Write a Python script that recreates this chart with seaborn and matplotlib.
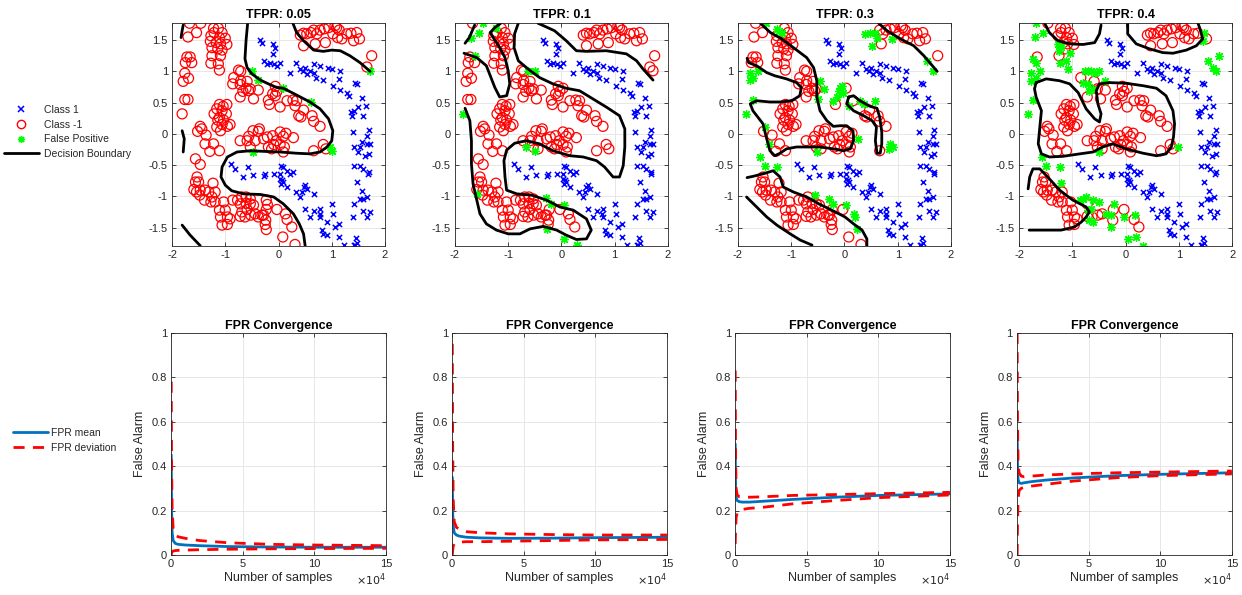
import numpy as np
import seaborn as sns
import matplotlib.pyplot as plt
from matplotlib.lines import Line2D

# class 1 samples (blue x)
class_pos = np.array([
    (-0.34, 1.50), (-0.31, 1.45), (-0.11, 1.44), (-0.06, 1.38), (-0.11, 1.27), (-0.28, 1.16),
    (-0.22, 1.12), (-0.16, 1.14), (-0.08, 1.11), (0.02, 1.13), (-0.03, 1.09), (0.21, 0.98),
    (0.33, 1.13), (0.41, 1.04), (0.46, 1.01), (0.50, 1.06), (0.53, 0.96), (0.66, 1.12),
    (0.59, 1.01), (0.67, 0.98), (0.71, 0.90), (0.78, 1.09), (0.83, 0.86), (0.92, 1.06),
    (1.00, 1.04), (1.03, 0.77), (1.16, 1.01), (1.14, 0.88), (1.16, 0.70), (1.28, 0.66),
    (1.33, 0.61), (1.44, 0.81), (1.47, 0.80), (1.56, 0.57), (1.36, 0.35), (1.41, 0.37),
    (1.50, 0.43), (1.64, 0.44), (1.38, 0.29), (1.58, 0.29), (1.69, 0.06), (1.66, -0.03),
    (1.39, 0.03), (1.41, -0.21), (1.56, -0.13), (1.53, -0.21), (1.66, -0.16), (1.72, -0.17),
    (1.50, -0.29), (1.63, -0.35), (1.69, -0.32), (1.41, -0.51), (1.53, -0.51), (1.59, -0.56),
    (1.69, -0.61), (1.68, -0.64), (1.47, -0.77), (1.56, -0.91), (1.53, -1.04), (1.59, -1.05),
    (1.66, -1.01), (1.41, -1.13), (1.39, -1.33), (1.58, -1.23), (1.72, -1.25), (1.66, -1.33),
    (-0.89, -0.48), (-0.81, -0.56), (-0.66, -0.69), (-0.58, -0.53), (-0.47, -0.66), (-0.25, -0.64),
    (-0.27, -0.68), (-0.09, -0.65), (0.04, -0.51), (0.09, -0.53), (0.02, -0.64), (0.16, -0.60),
    (0.22, -0.64), (0.28, -0.61), (0.03, -0.72), (0.06, -0.74), (0.09, -0.77), (0.05, -0.80),
    (0.16, -0.85), (0.50, -0.82), (0.47, -0.85), (0.53, -0.88), (0.44, -0.93), (0.33, -0.93),
    (0.41, -1.01), (0.66, -0.96), (0.50, -1.20), (0.66, -1.23), (0.78, -1.20), (0.77, -1.28),
    (0.59, -1.33), (0.78, -1.33), (1.00, -1.13), (1.02, -1.28), (0.91, -1.41), (1.06, -1.49),
    (1.13, -1.45), (0.81, -1.54), (0.84, -1.60), (0.91, -1.62), (1.13, -1.65), (1.23, -1.78),
    (1.41, -1.78), (1.46, -1.66), (1.47, -1.74), (1.44, -1.78),
])

# class -1 samples (red o)
class_neg = np.array([
    (-1.67, 1.77), (-1.46, 1.77), (-1.54, 1.62), (-1.70, 1.55), (-1.22, 1.69), (-1.13, 1.69),
    (-1.21, 1.62), (-1.06, 1.62), (-1.27, 1.57), (-1.11, 1.54), (-1.28, 1.48), (-1.17, 1.46),
    (-1.00, 1.53), (-1.09, 1.44), (-0.97, 1.43), (-1.25, 1.38), (-1.14, 1.36), (-1.06, 1.34),
    (-1.25, 1.25), (-1.09, 1.25), (-1.27, 1.13), (-1.13, 1.12), (-1.11, 1.02), (-1.72, 1.23),
    (-1.66, 1.23), (-1.75, 1.14), (-1.63, 1.14), (-1.76, 0.97), (-1.69, 0.89), (-1.79, 0.84),
    (-1.76, 0.55), (-1.70, 0.55), (-1.81, 0.32), (-1.11, 0.47), (-1.04, 0.44), (-0.97, 0.47),
    (-1.16, 0.40), (-1.06, 0.37), (-1.21, 0.32), (-1.11, 0.26), (-0.98, 0.32), (-1.14, 0.22),
    (-1.03, 0.22), (-1.06, 0.15), (-0.91, 0.15), (-0.96, 0.12), (-1.16, 0.11), (-1.09, 0.05),
    (-1.47, 0.12), (-1.44, 0.08), (-1.52, 0.04), (-1.36, -0.02), (-1.38, -0.16), (-1.22, -0.16),
    (-1.11, -0.27), (-1.29, -0.28),
    (-0.75, 1.02), (-0.71, 1.00), (-0.84, 0.90), (-0.71, 0.85), (-0.59, 0.84), (-0.86, 0.80),
    (-0.72, 0.79), (-0.61, 0.73), (-0.53, 0.72), (-0.38, 0.70), (-0.67, 0.68), (-0.56, 0.69),
    (-0.72, 0.59), (-0.47, 0.56), (-0.19, 0.54), (-0.11, 0.64), (-0.06, 0.76), (0.03, 0.73),
    (-0.03, 0.68), (-0.06, 0.61), (-0.17, 0.47), (0.16, 0.53), (0.27, 0.54), (0.34, 0.53),
    (0.31, 0.45), (0.03, 0.43), (0.38, 0.29), (0.42, 0.27), (0.47, 0.38), (0.63, 0.29),
    (0.66, 0.20), (0.78, 0.12), (-0.36, 0.08), (-0.38, 0.04), (-0.48, 0.05), (-0.56, -0.04),
    (-0.72, -0.11), (-0.59, -0.11), (-0.44, -0.11), (-0.28, -0.08), (-0.21, -0.05), (-0.11, -0.03),
    (-0.04, -0.11), (0.09, -0.04), (0.28, -0.06), (0.14, 0.01), (0.03, 0.03), (-0.19, -0.21),
    (-0.09, -0.17), (0.03, -0.17), (0.11, -0.21), (0.09, -0.29), (-0.13, -0.24), (-0.53, -0.21),
    (-0.44, -0.24), (0.66, -0.27), (0.84, -0.17), (0.89, -0.24),
    (-1.56, -0.40), (-1.47, -0.49), (-1.53, -0.69), (-1.56, -0.77), (-1.50, -0.77), (-1.59, -0.89),
    (-1.54, -0.93), (-1.47, -0.90), (-1.38, -0.90), (-1.23, -0.79), (-1.19, -0.93), (-1.31, -0.93),
    (-1.25, -1.01), (-1.48, -0.98), (-1.39, -1.06), (-1.27, -1.09), (-1.19, -1.09), (-1.03, -1.09),
    (-1.11, -1.22), (-1.00, -1.22), (-0.96, -1.33), (-1.09, -1.33), (-0.91, -1.36), (-1.06, -1.46),
    (-0.96, -1.45), (-0.86, -1.06), (-0.77, -1.06), (-0.69, -1.01), (-0.61, -1.01), (-0.53, -1.04),
    (-0.72, -1.12), (-0.61, -1.11), (-0.53, -1.12), (-0.47, -1.14), (-0.59, -1.21), (-0.69, -1.25),
    (-0.72, -1.32), (-0.63, -1.33), (-0.52, -1.30), (-0.44, -1.28), (-0.38, -1.33), (-0.31, -1.30),
    (-0.23, -1.06), (-0.21, -1.13), (-0.23, -1.21), (-0.28, -1.30), (-0.24, -1.38), (-0.25, -1.45),
    (-0.23, -1.53), (-0.03, -1.21), (0.13, -1.28), (0.16, -1.37), (0.25, -1.49), (0.08, -1.65),
    (0.31, -1.77),
    (0.41, 1.58), (0.47, 1.61), (0.53, 1.60), (0.61, 1.62), (0.66, 1.66), (0.72, 1.60),
    (0.78, 1.66), (0.86, 1.68), (0.94, 1.70), (1.06, 1.73), (1.09, 1.70), (1.14, 1.66),
    (1.02, 1.60), (1.19, 1.52), (1.28, 1.60), (1.36, 1.61), (1.47, 1.62), (1.52, 1.52),
    (1.41, 1.49), (0.47, 1.41), (0.69, 1.44), (0.88, 1.46), (1.11, 1.54), (1.75, 1.25),
    (1.66, 1.07), (1.72, 1.01),
])

tfpr = ["0.05", "0.1", "0.3", "0.4"]

# false positives (green) per TFPR
false_pos = [
    [(-0.50, 1.00), (-0.39, 0.86), (0.09, 0.73), (0.61, 0.51), (0.96, -0.21), (1.00, -0.27),
     (-0.47, -0.29), (1.72, 1.00)],
    [(-1.47, 1.77), (-1.54, 1.62), (-1.70, 1.54), (-1.63, 1.25), (-1.84, 0.31), (-0.67, -0.21),
     (-0.50, -0.28), (-0.63, 1.01), (-0.50, 1.00), (-0.29, -1.03), (-0.20, -1.13), (0.04, -1.14),
     (-0.27, -1.53), (0.04, -1.68), (0.29, -1.78), (-1.58, -0.96), (-1.23, 1.70)],
    [(-1.47, 1.77), (-1.27, 1.68), (-1.18, 1.62), (-1.23, 1.65), (-1.78, 0.98), (-1.72, 0.90),
     (-1.62, 1.01), (-1.78, 0.86), (-1.85, 0.32), (-1.72, 0.54), (-1.49, 0.11), (-1.41, -0.16),
     (-0.46, 0.85), (-0.39, 0.72), (-0.49, 0.56), (-0.21, 0.53), (-0.14, 0.59), (-0.11, 0.69),
     (-0.08, 0.73), (-0.05, 0.76), (-0.02, 0.66), (0.08, 0.44), (0.29, 0.53), (0.36, 0.48),
     (0.58, 0.53), (0.26, -0.08), (0.86, -0.16), (0.83, -0.24), (0.92, -0.21), (-0.52, -0.29),
     (-1.58, -0.37), (-1.49, -0.51), (-1.27, -0.53), (-0.55, -0.98), (-0.30, -1.04), (-0.21, -1.12),
     (0.03, -1.14), (0.17, -1.28), (0.20, -1.33), (0.23, -1.52), (0.39, 1.60), (0.48, 1.61),
     (0.58, 1.62), (0.61, 1.54), (0.51, 1.41), (1.54, 1.17), (1.67, 1.01), (0.89, 1.52)],
    [(-1.69, 1.77), (-1.55, 1.62), (-1.71, 1.55), (-1.74, 1.20), (-1.69, 1.14), (-1.77, 0.98),
     (-1.61, 1.01), (-1.78, 0.85), (-1.68, 0.90), (-1.27, 1.44), (-1.21, 1.39), (-1.25, 1.33),
     (-1.05, 1.29), (-1.11, 1.17), (-1.24, 1.14), (-1.08, 1.04), (-1.83, 0.32), (-1.74, 0.54),
     (-0.77, 1.01), (-0.71, 1.01), (-0.64, 1.01), (-0.58, 0.98), (-0.49, 1.01), (-0.80, 0.82),
     (-0.71, 0.80), (-0.61, 0.72), (-0.68, 0.69), (-0.39, 0.85), (-1.56, -0.37), (-1.49, -0.51),
     (-1.24, -0.53), (-1.21, -0.79), (-0.86, -1.06), (-0.80, -1.04), (-0.74, -1.01), (-0.61, -1.06),
     (-0.71, -1.22), (-0.64, -1.20), (-0.68, -1.38), (-0.61, -1.41), (-0.49, -1.09), (-0.36, -1.28),
     (-0.27, -1.30), (-0.21, -1.12), (-0.27, -1.49), (-0.02, -1.33), (0.17, -1.30), (0.04, -1.68),
     (0.20, -1.65), (0.33, -1.79), (0.98, -0.21), (1.45, 1.48), (1.54, 1.17), (1.75, 1.25),
     (1.64, 1.06), (1.70, 1.01), (1.48, 1.62), (-0.49, -0.29)],
]

# decision boundary curves per TFPR
boundaries = [
    [
        [(-0.58, 1.77), (-0.61, 1.49), (-0.63, 1.20), (-0.59, 1.06), (-0.50, 0.96), (-0.34, 0.86),
         (-0.19, 0.80), (-0.03, 0.74), (0.09, 0.73), (0.25, 0.66), (0.41, 0.59), (0.59, 0.51),
         (0.78, 0.40), (0.94, 0.24), (1.02, 0.05), (1.00, -0.11), (0.91, -0.21), (0.78, -0.29),
         (0.59, -0.32), (0.34, -0.31), (0.03, -0.29), (-0.28, -0.28), (-0.53, -0.27), (-0.78, -0.29),
         (-0.96, -0.37), (-1.06, -0.53), (-1.08, -0.69), (-1.00, -0.82), (-0.88, -0.91), (-0.66, -0.96),
         (-0.34, -0.97), (-0.09, -1.01), (0.09, -1.12), (0.28, -1.28), (0.39, -1.44), (0.47, -1.60),
         (0.50, -1.79)],
        [(0.27, 1.77), (0.34, 1.62), (0.47, 1.49), (0.66, 1.34), (0.84, 1.32), (1.00, 1.34),
         (1.16, 1.33), (1.34, 1.25), (1.53, 1.14), (1.72, 1.00)],
        [(-1.79, 1.74), (-1.81, 1.65), (-1.83, 1.54)],
        [(-1.81, 0.05), (-1.77, -0.08), (-1.79, -0.29)],
        [(-1.81, -1.46), (-1.66, -1.62), (-1.47, -1.79)],
    ],
    [
        [(-1.81, 1.45), (-1.73, 1.54), (-1.66, 1.68), (-1.63, 1.74)],
        [(-1.83, 1.29), (-1.59, 1.22), (-1.41, 1.09), (-1.25, 0.74), (-1.16, 0.59), (-1.03, 0.61),
         (-0.97, 0.80), (-1.00, 1.01), (-1.06, 1.22), (-1.16, 1.38), (-1.28, 1.54), (-1.34, 1.62),
         (-1.25, 1.70), (-1.14, 1.77)],
        [(-0.81, 1.77), (-0.88, 1.60), (-0.89, 1.38), (-0.81, 1.17), (-0.63, 1.04), (-0.41, 0.90),
         (-0.16, 0.80), (0.09, 0.73), (0.34, 0.69), (0.59, 0.56), (0.84, 0.43), (1.09, 0.29),
         (1.19, 0.08), (1.19, -0.21), (1.16, -0.51), (1.09, -0.69), (0.97, -0.69), (0.81, -0.53),
         (0.66, -0.43), (0.41, -0.37), (0.16, -0.35), (-0.16, -0.27), (-0.41, -0.16), (-0.66, -0.11),
         (-0.88, -0.15), (-1.03, -0.26), (-1.08, -0.43), (-1.06, -0.69), (-1.03, -0.90), (-0.84, -0.96),
         (-0.56, -0.98), (-0.28, -1.06), (-0.03, -1.17), (0.22, -1.22), (0.47, -1.36), (0.56, -1.54),
         (0.47, -1.68), (0.28, -1.69), (0.09, -1.62), (-0.09, -1.54), (-0.34, -1.48), (-0.59, -1.52),
         (-0.78, -1.60), (-1.00, -1.60), (-1.22, -1.54), (-1.41, -1.44), (-1.53, -1.28), (-1.59, -1.06),
         (-1.66, -0.80), (-1.69, -0.48), (-1.69, -0.11), (-1.72, 0.21), (-1.81, 0.41)],
        [(-0.44, 1.77), (-0.13, 1.65), (0.09, 1.49), (0.28, 1.33), (0.47, 1.32), (0.84, 1.33),
         (1.22, 1.28), (1.41, 1.17), (1.53, 1.04), (1.72, 0.86)],
    ],
    [
        [(-1.58, 1.77), (-1.39, 1.62), (-1.18, 1.52), (-0.96, 1.38), (-0.71, 1.22), (-0.58, 1.06),
         (-0.52, 0.85), (-0.52, 0.59), (-0.46, 0.37), (-0.33, 0.21), (-0.21, 0.12), (-0.08, 0.13),
         (0.04, 0.13), (0.16, 0.05), (0.17, -0.11), (0.11, -0.24), (-0.02, -0.27), (-0.21, -0.24),
         (-0.46, -0.21), (-0.71, -0.21), (-0.90, -0.21), (-1.09, -0.24), (-1.21, -0.31), (-1.31, -0.35),
         (-1.40, -0.27), (-1.47, -0.05), (-1.53, 0.16), (-1.72, 0.37), (-1.77, 0.48), (-1.65, 0.53),
         (-1.40, 0.51), (-1.21, 0.51), (-0.99, 0.53), (-0.84, 0.61), (-0.81, 0.74), (-0.90, 0.82),
         (-1.09, 0.88), (-1.31, 0.93), (-1.46, 0.98), (-1.65, 1.09), (-1.80, 1.14), (-1.83, 1.21)],
        [(0.08, 0.59), (0.17, 0.61), (0.29, 0.53), (0.48, 0.44), (0.61, 0.41), (0.66, 0.27),
         (0.70, 0.03), (0.70, -0.16), (0.67, -0.31), (0.61, -0.31), (0.58, -0.11), (0.60, 0.11),
         (0.52, 0.21), (0.36, 0.29), (0.17, 0.37), (0.04, 0.48), (0.08, 0.59)],
        [(0.64, 1.77), (0.80, 1.65), (1.05, 1.52), (1.30, 1.41), (1.49, 1.25), (1.68, 1.06),
         (1.74, 1.00)],
        [(-1.83, -0.70), (-1.72, -0.68), (-1.53, -0.64), (-1.34, -0.59), (-1.21, -0.69), (-1.15, -0.85),
         (-0.96, -0.93), (-0.71, -1.01), (-0.46, -1.13), (-0.24, -1.22), (0.01, -1.33), (0.17, -1.44),
         (0.33, -1.54), (0.42, -1.68), (0.42, -1.79)],
        [(-1.84, -1.01), (-1.65, -1.17), (-1.46, -1.33), (-1.27, -1.46), (-1.02, -1.60), (-0.83, -1.70),
         (-0.61, -1.78)],
    ],
    [
        [(-1.52, 1.77), (-1.43, 1.62), (-1.27, 1.49), (-1.05, 1.44), (-0.80, 1.43), (-0.58, 1.46),
         (-0.49, 1.60), (-0.46, 1.74)],
        [(0.04, 1.77), (0.04, 1.60), (0.20, 1.44), (0.45, 1.36), (0.70, 1.30), (0.89, 1.29),
         (1.14, 1.34), (1.33, 1.41), (1.45, 1.52), (1.39, 1.70), (1.36, 1.77)],
        [(-1.68, 0.82), (-1.49, 0.88), (-1.24, 0.85), (-1.05, 0.80), (-0.89, 0.66), (-0.74, 0.40),
         (-0.58, 0.24), (-0.49, 0.19), (-0.46, 0.32), (-0.52, 0.48), (-0.55, 0.69), (-0.49, 0.80),
         (-0.30, 0.82), (0.01, 0.81), (0.33, 0.77), (0.58, 0.73), (0.76, 0.61), (0.89, 0.37),
         (0.92, 0.16), (0.90, -0.05), (0.86, -0.21), (0.76, -0.32), (0.58, -0.35), (0.33, -0.31),
         (0.01, -0.24), (-0.24, -0.16), (-0.43, -0.21), (-0.61, -0.29), (-0.86, -0.32), (-1.18, -0.36),
         (-1.43, -0.37), (-1.58, -0.32), (-1.64, -0.16), (-1.61, 0.11), (-1.58, 0.37), (-1.68, 0.59),
         (-1.71, 0.72), (-1.68, 0.82)],
        [(-1.83, -0.88), (-1.80, -0.69), (-1.74, -0.56), (-1.61, -0.56), (-1.43, -0.72), (-1.24, -0.90),
         (-0.99, -1.06), (-0.74, -1.17), (-0.68, -1.25), (-0.74, -1.33), (-0.83, -1.41), (-0.96, -1.49),
         (-1.21, -1.54), (-1.49, -1.54), (-1.81, -1.54)],
    ],
]

# FPR convergence curves
samples = [150, 400, 800, 1500, 3000, 5000, 10000, 20000, 40000, 70000, 100000, 150000]
fpr_mean = [
    [0.45, 0.20, 0.10, 0.065, 0.052, 0.048, 0.045, 0.042, 0.038, 0.036, 0.035, 0.035],
    [0.35, 0.20, 0.13, 0.10, 0.09, 0.085, 0.08, 0.077, 0.075, 0.076, 0.078, 0.08],
    [0.50, 0.30, 0.26, 0.245, 0.24, 0.238, 0.238, 0.242, 0.25, 0.26, 0.268, 0.275],
    [0.55, 0.40, 0.34, 0.325, 0.322, 0.325, 0.33, 0.337, 0.347, 0.357, 0.363, 0.37],
]
fpr_upper = [
    [0.78, 0.40, 0.20, 0.12, 0.09, 0.082, 0.075, 0.065, 0.055, 0.048, 0.045, 0.042],
    [0.95, 0.50, 0.25, 0.15, 0.125, 0.115, 0.105, 0.10, 0.095, 0.092, 0.09, 0.09],
    [0.83, 0.45, 0.30, 0.27, 0.262, 0.26, 0.26, 0.262, 0.268, 0.272, 0.276, 0.282],
    [1.00, 0.60, 0.42, 0.37, 0.355, 0.352, 0.355, 0.36, 0.365, 0.37, 0.373, 0.378],
]
fpr_lower = [
    [0.00, 0.01, 0.015, 0.018, 0.02, 0.021, 0.022, 0.024, 0.026, 0.028, 0.029, 0.03],
    [0.00, 0.02, 0.04, 0.05, 0.055, 0.058, 0.06, 0.06, 0.062, 0.065, 0.068, 0.07],
    [0.05, 0.12, 0.17, 0.19, 0.20, 0.205, 0.21, 0.215, 0.23, 0.245, 0.258, 0.27],
    [0.00, 0.15, 0.25, 0.29, 0.30, 0.305, 0.31, 0.318, 0.333, 0.348, 0.357, 0.365],
]

sns.set_style("whitegrid")
plt.rcParams["font.family"] = ["Liberation Sans", "DejaVu Sans"]
plt.rcParams["axes.unicode_minus"] = False
dark = "#262626"


def matlab_axes(ax):
    for sp in ax.spines.values():
        sp.set_visible(True)
        sp.set_color(dark)
        sp.set_linewidth(0.6)
    ax.grid(True, color="#e3e3e3", linewidth=0.6)
    ax.set_axisbelow(True)
    ax.tick_params(direction="in", length=3, width=0.6, labelsize=8, colors=dark,
                   bottom=True, top=True, left=True, right=True, pad=3)


fig = plt.figure(figsize=(12.42, 5.95), dpi=100)
top_left = [0.1385, 0.3663, 0.5942, 0.8205]
bot_left = [0.1377, 0.364, 0.5918, 0.8188]

for i in range(4):
    ax = fig.add_axes([top_left[i], 0.587, 0.1715, 0.375])
    fp = np.array(false_pos[i])
    dist = np.sqrt(((class_neg[:, None, :] - fp[None, :, :]) ** 2).sum(axis=2)).min(axis=1)
    neg = class_neg[dist > 0.07]
    sns.scatterplot(x=class_pos[:, 0], y=class_pos[:, 1], marker="x", s=14, color="#0000ff",
                    linewidth=1.1, ax=ax)
    sns.scatterplot(x=neg[:, 0], y=neg[:, 1], marker="o", s=52, color="#ff0000",
                    facecolor="none", edgecolor="#ff0000", linewidth=0.9, ax=ax)
    sns.scatterplot(x=fp[:, 0], y=fp[:, 1], marker=(8, 2, 0), s=30, color="#00ff00",
                    edgecolor="#00ff00", linewidth=1.0, ax=ax)
    for curve in boundaries[i]:
        c = np.array(curve)
        ax.plot(c[:, 0], c[:, 1], color="black", linewidth=2)
    ax.set_xlim(-2, 2)
    ax.set_ylim(-1.79, 1.78)
    ax.set_xticks([-2, -1, 0, 1, 2])
    ax.set_yticks([-1.5, -1, -0.5, 0, 0.5, 1, 1.5])
    ax.set_yticklabels(["-1.5", "-1", "-0.5", "0", "0.5", "1", "1.5"])
    ax.set_title("TFPR: " + tfpr[i], fontsize=9, fontweight="bold", pad=3, color="black")
    matlab_axes(ax)

x_scaled = np.array(samples) / 1e4
for i in range(4):
    ax = fig.add_axes([bot_left[i], 0.0672, 0.173, 0.3736])
    sns.lineplot(x=x_scaled, y=fpr_mean[i], color="#0072bd", linewidth=2, ax=ax)
    sns.lineplot(x=x_scaled, y=fpr_upper[i], color="#ff0000", linewidth=2, linestyle=(0, (4, 3)), ax=ax)
    sns.lineplot(x=x_scaled, y=fpr_lower[i], color="#ff0000", linewidth=2, linestyle=(0, (4, 3)), ax=ax)
    ax.set_xlim(0, 15)
    ax.set_ylim(0, 1)
    ax.set_xticks([0, 5, 10, 15])
    ax.set_yticks([0, 0.2, 0.4, 0.6, 0.8, 1])
    ax.set_yticklabels(["0", "0.2", "0.4", "0.6", "0.8", "1"])
    ax.set_xlabel("Number of samples", fontsize=9, color=dark, labelpad=2)
    ax.set_ylabel("False Alarm", fontsize=9, color=dark, labelpad=4)
    ax.set_title("FPR Convergence", fontsize=9, fontweight="bold", pad=3, color="black")
    ax.text(1.0, -0.075, r"$\times10^4$", transform=ax.transAxes, ha="right", va="top",
            fontsize=8, color=dark)
    matlab_axes(ax)

top_handles = [
    Line2D([], [], linestyle="none", marker="x", color="#0000ff", markersize=4, markeredgewidth=1.1),
    Line2D([], [], linestyle="none", marker="o", color="#ff0000", markerfacecolor="none", markersize=6),
    Line2D([], [], linestyle="none", marker=(8, 2, 0), color="#00ff00", markersize=5),
    Line2D([], [], color="black", linewidth=2),
]
fig.legend(top_handles, ["Class 1", "Class -1", "False Positive", "Decision Boundary"],
           loc="center left", bbox_to_anchor=(0.0, 0.778), frameon=False, fontsize=7.5,
           handlelength=3.3, handletextpad=0.5, labelspacing=0.45, borderaxespad=0)

bot_handles = [
    Line2D([], [], color="#0072bd", linewidth=2),
    Line2D([], [], color="#ff0000", linewidth=2, linestyle=(0, (4, 3))),
]
fig.legend(bot_handles, ["FPR mean", "FPR deviation"], loc="center left",
           bbox_to_anchor=(0.007, 0.26), frameon=False, fontsize=7.5,
           handlelength=3.4, handletextpad=0.3, labelspacing=0.45, borderaxespad=0)

fig.savefig("out.png", dpi=100)
